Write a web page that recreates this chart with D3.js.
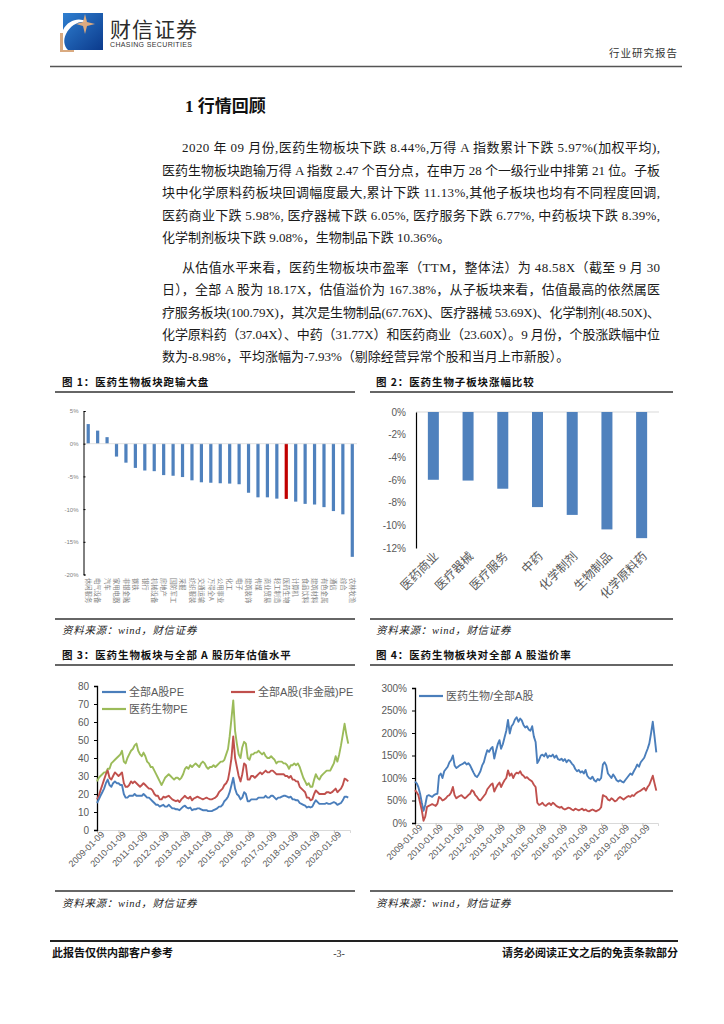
<!DOCTYPE html>
<html><head><meta charset="utf-8">
<script src="https://cdn.jsdelivr.net/npm/d3@7"></script>
<style>body{margin:0;background:#fff;} svg{display:block;}</style>
</head><body>
<svg id="page" width="724" height="1024"></svg>
<script>
// ---------------- DATA ----------------
const industries = ["休闲服务","电气设备","汽车","家用电器","非银金融","钢铁","银行","机械设备","房地产","国防军工","采掘","纺织服装","交通运输","万得全A","公用事业","化工","电子","建筑装饰","传媒","商业贸易","轻工制造","医药生物","计算机","食品饮料","建筑材料","有色金属","通信","综合","农林牧渔"];
const industryChange = [3.0,2.0,1.0,-1.97,-2.9,-3.7,-4.1,-4.2,-4.8,-4.9,-5.1,-5.6,-5.9,-5.97,-6.05,-6.1,-6.2,-7.5,-8.2,-8.2,-8.4,-8.44,-8.86,-9.2,-9.3,-9.7,-10.3,-10.8,-17.3];
const highlightIndustry = "医药生物";
const chart1Ticks = [5,0,-5,-10,-15,-20];

const subSectors = ["医药商业","医疗器械","医疗服务","中药","化学制剂","生物制品","化学原料药"];
const subSectorChange = [-5.98,-6.05,-6.77,-8.39,-9.08,-10.36,-11.13];
const chart2Ticks = [0,-2,-4,-6,-8,-10,-12];

// monthly readings, 2009-01 .. 2020-09
const peAll = [
15,17,19,21,23,26,28,25,24,26,27,26,
26,25,25,20,18,18,19,19,19,20,19,19,
19,19,20,19,18,18,17,16,15,14,14,13,
13.5,14,13,13,14,13,12,12,11.5,11.5,11,12,
13,13.5,12.5,12,12.5,11,11.5,11.5,12,12,11.5,11,
11,11,10.5,10.5,10.5,11,11.5,12,13,13,14,16,
17,18.5,21,25,29,23,20,19,17,18,21,20,
16,16,17,17,17,17,18,18,18,18,19,18,
18,19,19,18,17,18,18,18.5,19,19,18.5,18,
18.5,17,17,16.5,16.5,15,14.5,14,13.5,12.5,13,12.5,
13,15,16.5,15.5,14.5,14.5,14.5,14.5,15,14.5,14.5,15,
15.5,15,14,14.5,15,16.5,18.5,18.5,18];
const peNonFin = [
17,19,22,25,28,31,33,29,28,30,32,31,
30,31,32,26,24,24,25,27,26,27,26,25,
24,25,26,25,24,23,23,22,20,19,19,17,
17,18.5,18,18.5,19,18,17,16.5,16,16.5,15.5,17,
18,19,18,17.5,18.5,16.5,17.5,18,18.5,18,17.5,17,
17.5,18,17.5,17,17,17.5,18,19,21,22,23,25,
26,28,33,40,52,40,35,30,27,31,37,36,
28,28,30,30,29,30,31,32,31,32,33,32,
32,33,33,32,31,31,31,31,31,30,30,29,
30,28,28,27,27,24,23,22,21,18,18,16.5,
17,20,22,21,20,20,20,20,21,21,20.5,21,
22,23,21,22,23,25,28.5,28,27];
const peMed = [
27,29,30,31,32,32,34,34,37,38,39,40,
41,42,44,38,37,40,42,44,45,47,48,44,
42,41,43,41,38,37,35,35,33,31,29,27,
25,27,29,30,31,30,29,28,29,29,28,29,
31,34,35,34,36,35,36,37,36,35,37,38,
37,35,34,35,35,36,35,36,37,38,38,39,
42,45,52,62,72,55,48,42,40,46,49,48,
40,39,42,42,43,43,44,43,42,43,41,40,
40,41,40,39,37,38,38,38,37,37,36,34,
36,36,37,36,37,35,32,29,27,25,26,24,
24,28,31,29,28,30,31,32,33,33,33,35,
37,41,38,42,47,53,59,53,48];
const premiumAll = [
92,88,80,65,45,27,40,60,62,60,58,62,
64,65,105,110,100,115,120,125,135,140,150,128,
122,125,128,130,132,135,130,133,128,120,112,105,
102,108,115,128,135,150,162,158,165,169,143,160,
175,184,165,175,190,205,229,199,215,220,230,235,
225,232,228,218,212,215,208,205,215,192,180,133,
140,150,152,148,155,145,150,148,152,145,150,142,
140,143,138,142,135,140,138,132,128,120,115,118,
112,115,110,118,105,100,98,103,95,92,98,95,
100,130,135,128,110,105,100,108,102,95,92,95,
92,90,95,100,105,110,107,115,122,130,125,135,
140,145,155,165,177,200,225,192,157];
const premiumNonFin = [
73,68,62,45,28,5,14,36,38,40,42,40,
38,43,58,55,50,52,55,60,62,68,80,62,
55,58,60,62,58,55,58,62,65,73,70,62,
58,52,50,55,60,65,75,80,85,88,70,78,
85,90,80,88,95,100,117,105,110,100,108,112,
110,115,108,105,100,102,98,95,92,85,80,45,
40,42,45,40,38,42,44,40,45,42,38,36,
34,36,32,30,32,34,33,30,28,32,30,28,
30,32,28,30,27,26,28,30,28,26,28,30,
35,62,60,58,52,50,55,52,48,50,55,58,
55,52,55,58,60,58,62,60,65,68,70,72,
75,78,72,80,85,95,105,88,72];
const dateTicks = ["2009-01-09","2010-01-09","2011-01-09","2012-01-09","2013-01-09","2014-01-09","2015-01-09","2016-01-09","2017-01-09","2018-01-09","2019-01-09","2020-01-09"];
const chart3Ticks = [0,10,20,30,40,50,60,70,80];
const chart4Ticks = [0,50,100,150,200,250,300];

// ---------------- TEXT ----------------
const para1 = [
 "2020 年 09 月份,医药生物板块下跌 8.44%,万得 A 指数累计下跌 5.97%(加权平均),",
 "医药生物板块跑输万得 A 指数 2.47 个百分点，在申万 28 个一级行业中排第 21 位。子板",
 "块中化学原料药板块回调幅度最大,累计下跌 11.13%,其他子板块也均有不同程度回调,",
 "医药商业下跌 5.98%, 医疗器械下跌 6.05%, 医疗服务下跌 6.77%, 中药板块下跌 8.39%,",
 "化学制剂板块下跌 9.08%，生物制品下跌 10.36%。"];
const para2 = [
 "从估值水平来看，医药生物板块市盈率（TTM，整体法）为 48.58X（截至 9 月 30",
 "日），全部 A 股为 18.17X，估值溢价为 167.38%，从子板块来看，估值最高的依然属医",
 "疗服务板块(100.79X)，其次是生物制品(67.76X)、医疗器械 53.69X)、化学制剂(48.50X)、",
 "化学原料药（37.04X）、中药（31.77X）和医药商业（23.60X）。9 月份，个股涨跌幅中位",
 "数为-8.98%，平均涨幅为-7.93%（剔除经营异常个股和当月上市新股）。"];

// ---------------- DRAW ----------------
const svg = d3.select("#page");
const SANS = "'Liberation Sans', Arial, 'Noto Sans CJK SC', sans-serif";
const CJK = "'Noto Sans CJK SC', sans-serif";
const SERIF = "'Liberation Serif', 'Noto Sans CJK SC', serif";
const parseD = d3.timeParse("%Y-%m-%d");
const monthDates = peAll.map((_, i) => new Date(2009, i, 9));

const defs = svg.append("defs");
const lg = defs.append("linearGradient").attr("id","lg").attr("x1","0").attr("y1","0").attr("x2","1").attr("y2","1");
lg.append("stop").attr("offset","0").attr("stop-color","#2f7fd0");
lg.append("stop").attr("offset","1").attr("stop-color","#0b3a8c");

// logo
const logo = svg.append("g");
logo.append("rect").attr("x",60).attr("y",33).attr("width",14).attr("height",19).attr("fill","#d9aa80");
logo.append("rect").attr("x",63).attr("y",13).attr("width",40).attr("height",37).attr("fill","url(#lg)");
logo.append("path").attr("d","M63,30 C68,20 80,17 86,22 C78,21 70,26 66,34 C63,40 64,46 68,50 L63,50 Z").attr("fill","#fff");
logo.append("path").attr("d","M85,14 L87,22 L95,24 L87,26 L85,34 L83,26 L76,24 L83,22 Z").attr("fill","#f2b27a").attr("opacity",0.9);
svg.append("text").attr("x",110).attr("y",37).text("财信证券")
  .style("font-family",CJK).style("font-size","21px").style("letter-spacing","1px").attr("fill","#2b2b2b");
svg.append("text").attr("x",110).attr("y",47).text("CHASING SECURITIES")
  .attr("textLength",82).style("font-family",SANS).style("font-size","7px").attr("fill","#333");
svg.append("text").attr("x",678).attr("y",57).attr("text-anchor","end").text("行业研究报告")
  .style("font-family",CJK).style("font-size","10.5px").style("letter-spacing","1px").attr("fill","#333");
svg.append("line").attr("x1",50).attr("x2",682).attr("y1",66.5).attr("y2",66.5).attr("stroke","#555").attr("stroke-width",1.5);

// heading
svg.append("text").attr("x",185).attr("y",112).text("1 行情回顾")
  .style("font-family",SERIF).style("font-size","17px").style("font-weight","bold").attr("fill","#111");

// paragraphs
function drawPara(lines, ys) {
  lines.forEach((t, i) => {
    const x0 = i === 0 ? 182 : 162;
    const last = i === lines.length - 1;
    const tx = svg.append("text").attr("x", x0).attr("y", ys[i]).text(t)
      .style("font-family", SERIF).style("font-size","13px").attr("fill","#1a1a1a");
    if (!last) tx.attr("textLength", 660 - x0).attr("lengthAdjust","spacing");
  });
}
drawPara(para1, [151.5,174.5,197,219.5,242]);
drawPara(para2, [271.5,294,316.5,338.5,361]);

// chart frames
function frame(x0, x1, tx, ty, lineY, title, srcLineY, srcY) {
  svg.append("text").attr("x",tx).attr("y",ty).text(title)
    .style("font-family",CJK).style("font-size","10.5px").style("font-weight","bold").style("letter-spacing","0.9px").attr("fill","#111");
  svg.append("line").attr("x1",x0).attr("x2",x1).attr("y1",lineY).attr("y2",lineY).attr("stroke","#333").attr("stroke-width",1.6);
  svg.append("line").attr("x1",x0).attr("x2",x1).attr("y1",srcLineY).attr("y2",srcLineY).attr("stroke","#333").attr("stroke-width",1.6);
  svg.append("text").attr("x",tx).attr("y",srcY).text("资料来源：wind，财信证券")
    .style("font-family",SERIF).style("font-size","10.5px").style("font-style","italic").style("letter-spacing","0.7px").attr("fill","#222");
}
frame(55,355,62,385.5,392,"图 1：医药生物板块跑输大盘",619,634);
frame(370,673,376,385.5,392,"图 2：医药生物子板块涨幅比较",619,634);
frame(55,355,62,658.5,665,"图 3：医药生物板块与全部 A 股历年估值水平",891,907);
frame(370,673,376,658.5,665,"图 4：医药生物板块对全部 A 股溢价率",891,907);

// ---- Chart 1 ----
{
  const x = d3.scaleBand().domain(industries).range([83.5, 357]);
  const y = d3.scaleLinear().domain([-20,5]).range([574.5, 411]);
  const g = svg.append("g");
  const bw = x.bandwidth();
  g.selectAll("rect").data(industries).join("rect")
    .attr("x", d => x(d) + bw*0.33).attr("width", bw*0.34)
    .attr("y", (d,i) => Math.min(y(industryChange[i]), y(0)))
    .attr("height", (d,i) => Math.abs(y(industryChange[i]) - y(0)))
    .attr("fill", d => d === highlightIndustry ? "#c00000" : "#4f81bd");
  g.append("line").attr("x1",83.5).attr("x2",357).attr("y1",y(0)).attr("y2",y(0)).attr("stroke","#d9d9d9").attr("stroke-width",0.8);
  const ax = g.append("g").attr("transform","translate(83.5,0)")
    .call(d3.axisLeft(y).tickValues(chart1Ticks).tickFormat(d => d + "%").tickSize(-2).tickPadding(5));
  ax.select(".domain").attr("stroke","#000").attr("stroke-width",1);
  ax.selectAll(".tick line").attr("stroke","#000");
  ax.selectAll("text").style("font-family",SANS).style("font-size","6px").attr("fill","#7f7f7f");
  g.selectAll("text.xl").data(industries).join("text").attr("class","xl")
    .attr("transform", d => `translate(${x(d) + bw/2 - 2.2},578) rotate(90)`)
    .attr("text-anchor","start")
    .style("font-family",CJK).style("font-size","6.3px").attr("fill","#7f7f7f")
    .text(d => d);
}

// ---- Chart 2 ----
{
  const x = d3.scaleBand().domain(subSectors).range([416, 659]);
  const y = d3.scaleLinear().domain([-12,0]).range([548, 412]);
  const g = svg.append("g");
  const bw = x.bandwidth();
  g.append("line").attr("x1",416).attr("x2",659).attr("y1",y(0)).attr("y2",y(0)).attr("stroke","#d9d9d9").attr("stroke-width",1);
  g.selectAll("rect").data(subSectors).join("rect")
    .attr("x", d => x(d) + bw/2 - 5.5).attr("width", 11)
    .attr("y", y(0)).attr("height", (d,i) => y(subSectorChange[i]) - y(0))
    .attr("fill","#4f81bd");
  const ax = g.append("g").attr("transform","translate(416,0)")
    .call(d3.axisLeft(y).tickValues(chart2Ticks).tickFormat(d => d + "%").tickSize(0).tickPadding(10));
  ax.select(".domain").attr("stroke","#000").attr("stroke-width",1.2);
  ax.selectAll("text").style("font-family",SANS).style("font-size","10px").attr("fill","#595959");
  g.selectAll("text.xl").data(subSectors).join("text").attr("class","xl")
    .attr("transform", d => `translate(${x(d) + bw/2 + 6},557) rotate(-45)`)
    .attr("text-anchor","end")
    .style("font-family",CJK).style("font-size","12px").attr("fill","#595959")
    .text(d => d);
}

// ---- line chart helper ----
function lineChart(opts) {
  const x = d3.scaleTime().domain([parseD("2009-01-09"), parseD("2020-10-09")]).range([opts.x0, opts.x1]);
  const y = d3.scaleLinear().domain([0, opts.ymax]).range([opts.y0, opts.y1]);
  const g = svg.append("g");
  const xa = g.append("g").attr("transform",`translate(0,${opts.y0})`)
    .call(d3.axisBottom(x).tickValues(dateTicks.map(parseD)).tickFormat(d3.timeFormat("%Y-%m-%d")).tickSize(3));
  xa.select(".domain").attr("stroke","#d9d9d9");
  xa.selectAll(".tick line").attr("stroke","#bfbfbf");
  xa.selectAll(".tick text").attr("text-anchor","end").attr("x", 0).attr("y", 6)
    .attr("dx","0.2em").attr("dy","0.3em").attr("transform","rotate(-45)")
    .style("font-family",SANS).style("font-size","9px").attr("fill","#595959");
  const ya = g.append("g").attr("transform",`translate(${opts.x0},0)`)
    .call(d3.axisLeft(y).tickValues(opts.ticks).tickFormat(opts.fmt).tickSize(3).tickPadding(5));
  ya.select(".domain").attr("stroke","#000").attr("stroke-width",1.3);
  ya.selectAll(".tick line").attr("stroke","#000");
  ya.selectAll("text").style("font-family",SANS).style("font-size","10px").attr("fill","#595959");
  opts.series.forEach(s => {
    g.append("path").datum(s.values)
      .attr("d", d3.line().x((d,i) => x(monthDates[i])).y(d => y(d)))
      .attr("fill","none").attr("stroke", s.color).attr("stroke-width",1.9).attr("stroke-linejoin","round");
  });
  opts.legend.forEach(l => {
    g.append("line").attr("x1",l.x).attr("x2",l.x+24).attr("y1",l.y).attr("y2",l.y)
      .attr("stroke",l.color).attr("stroke-width",2.2);
    g.append("text").attr("x",l.x+27).attr("y",l.y+4).text(l.label)
      .style("font-family",SANS).style("font-size","11px").attr("fill","#595959");
  });
}

lineChart({x0:97, x1:350, y0:830, y1:686, ymax:80, ticks:chart3Ticks, fmt:d=>d,
  series:[{values:peMed,color:"#9bbb59"},{values:peNonFin,color:"#c0504d"},{values:peAll,color:"#4a7ebb"}],
  legend:[{x:102,y:692,color:"#4a7ebb",label:"全部A股PE"},{x:231,y:692,color:"#c0504d",label:"全部A股(非金融)PE"},{x:102,y:709,color:"#9bbb59",label:"医药生物PE"}]});

lineChart({x0:415, x1:658, y0:823, y1:688, ymax:300, ticks:chart4Ticks, fmt:d=>d+"%",
  series:[{values:premiumAll,color:"#4a7ebb"},{values:premiumNonFin,color:"#c0504d"}],
  legend:[{x:419,y:696,color:"#4a7ebb",label:"医药生物/全部A股"}]});

// footer
svg.append("line").attr("x1",50).attr("x2",678).attr("y1",941).attr("y2",941).attr("stroke","#222").attr("stroke-width",2);
svg.append("text").attr("x",52).attr("y",957).text("此报告仅供内部客户参考")
  .style("font-family",CJK).style("font-size","11px").style("font-weight","bold").attr("fill","#111");
svg.append("text").attr("x",339).attr("y",957).attr("text-anchor","middle").text("-3-")
  .style("font-family",SERIF).style("font-size","10px").attr("fill","#333");
svg.append("text").attr("x",678).attr("y",957).attr("text-anchor","end").text("请务必阅读正文之后的免责条款部分")
  .style("font-family",CJK).style("font-size","11px").style("font-weight","bold").attr("fill","#111");
</script>
</body></html>
